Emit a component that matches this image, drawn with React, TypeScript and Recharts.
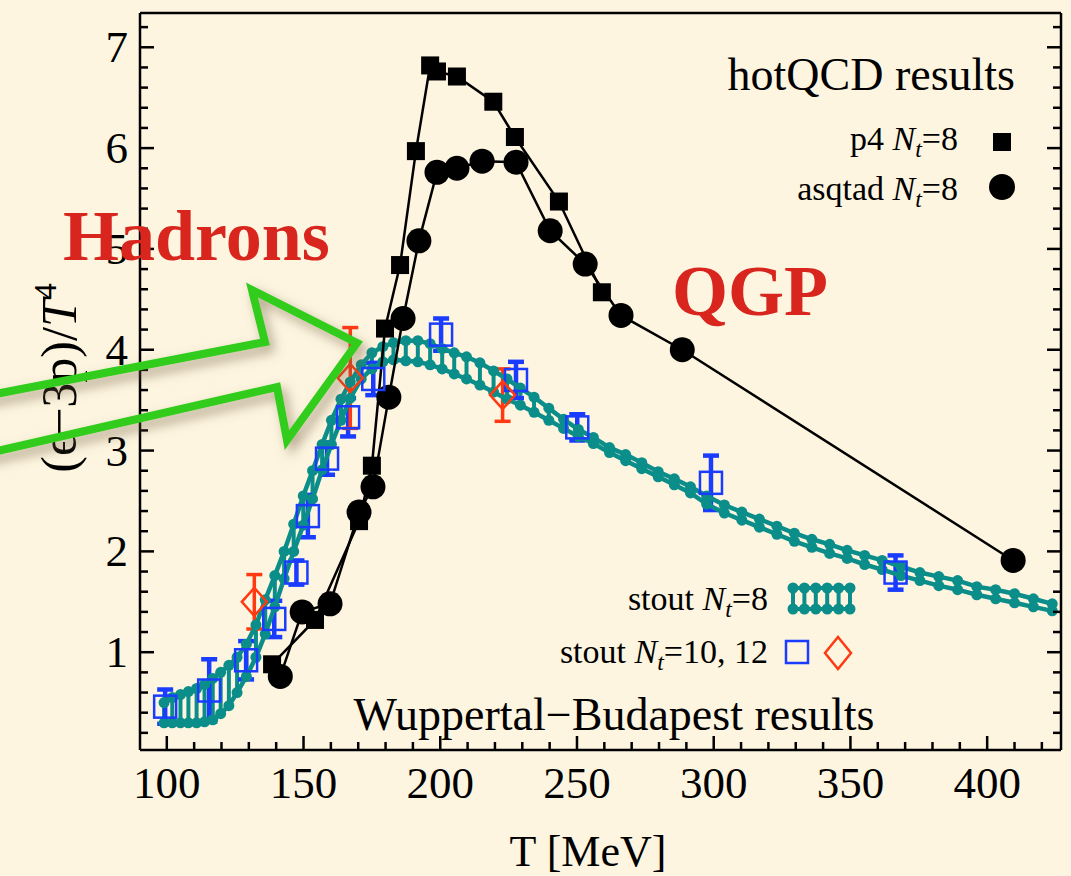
import React from "react";
import { ComposedChart, Scatter, XAxis, YAxis, ErrorBar } from "recharts";

const FONT = '"Liberation Serif", "DejaVu Serif", serif';
const TEAL = "#0b8e8a";
const BLUE = "#1a3cff";
const RED = "#ff3a12";
const TITLE_RED = "#d8261e";
const BG = "#fdf5e0";

// stout Nt=8 band (upper / lower edge)
const bandT = [99, 102, 105, 107.9, 110.9, 113.8, 116.8, 119.7, 122.7, 125.7, 129.1, 132.6, 136.0, 139.5, 142.9, 146.4, 149.9, 153.3, 156.8, 160.2, 163.7, 167.1, 171.1, 175.0, 179.0, 182.9, 187.4, 191.8, 196.3, 200.7, 205.1, 209.6, 214.5, 219.5, 224.4, 229.3, 234.3, 239.7, 245.1, 250.5, 256.0, 261.9, 267.8, 273.7, 279.7, 285.6, 291.5, 297.4, 303.9, 310.3, 316.7, 323.1, 329.5, 335.9, 342.4, 348.8, 355.2, 361.6, 368.5, 375.4, 382.3, 389.2, 396.2, 403.1, 410.0, 416.9, 423.8];
const bandHi = [0.50, 0.55, 0.58, 0.61, 0.64, 0.68, 0.74, 0.80, 0.87, 0.95, 1.08, 1.27, 1.52, 1.76, 2.00, 2.27, 2.55, 2.80, 3.06, 3.30, 3.51, 3.68, 3.85, 3.97, 4.03, 4.07, 4.09, 4.09, 4.06, 4.01, 3.97, 3.93, 3.87, 3.79, 3.71, 3.62, 3.53, 3.42, 3.31, 3.21, 3.13, 3.03, 2.96, 2.88, 2.79, 2.72, 2.64, 2.55, 2.46, 2.39, 2.32, 2.25, 2.18, 2.12, 2.07, 2.01, 1.96, 1.91, 1.85, 1.79, 1.75, 1.71, 1.65, 1.62, 1.58, 1.53, 1.48];
const bandLo = [0.30, 0.30, 0.30, 0.30, 0.30, 0.31, 0.33, 0.39, 0.47, 0.60, 0.76, 0.95, 1.18, 1.45, 1.73, 2.00, 2.26, 2.52, 2.81, 3.06, 3.30, 3.52, 3.71, 3.81, 3.88, 3.90, 3.89, 3.88, 3.85, 3.81, 3.76, 3.71, 3.65, 3.58, 3.51, 3.45, 3.38, 3.30, 3.22, 3.14, 3.07, 2.98, 2.90, 2.82, 2.74, 2.66, 2.58, 2.47, 2.38, 2.31, 2.24, 2.17, 2.10, 2.04, 1.98, 1.93, 1.87, 1.82, 1.76, 1.71, 1.66, 1.62, 1.57, 1.53, 1.49, 1.45, 1.41];

// hotQCD p4 Nt=8
const p4T = [138.5, 154.2, 170.3, 175.0, 179.8, 185.3, 191.1, 196.3, 198.8, 206.1, 219.4, 227.3, 243.4, 259.1];
const p4V = [0.88, 1.32, 2.30, 2.85, 4.21, 4.84, 5.97, 6.82, 6.76, 6.71, 6.46, 6.11, 5.47, 4.57];

// hotQCD asqtad Nt=8
const asqT = [141.5, 149.5, 159.7, 170.3, 175.4, 181.2, 186.4, 192.2, 198.8, 206.1, 215.3, 227.7, 240.2, 253.0, 266.1, 288.5, 409.5];
const asqV = [0.76, 1.40, 1.48, 2.39, 2.64, 3.53, 4.31, 5.08, 5.76, 5.80, 5.87, 5.86, 5.18, 4.85, 4.34, 4.00, 1.91];

// stout Nt=10, 12 (squares)
const sqT = [99.4, 115.5, 129.0, 139.3, 147.4, 151.6, 158.6, 166.3, 175.5, 200.3, 227.7, 250.1, 299.0, 366.5];
const sqV = [0.46, 0.62, 0.92, 1.33, 1.79, 2.35, 2.92, 3.33, 3.71, 4.15, 3.70, 3.23, 2.68, 1.79];
const sqErr = [0.17, 0.31, 0.19, 0.18, 0.12, 0.21, 0.16, 0.19, 0.16, 0.16, 0.18, 0.13, 0.27, 0.17];

// stout Nt=10, 12 (diamonds)
const dmT = [132.0, 167.1, 222.8];
const dmV = [1.50, 3.72, 3.55];
const dmErr = [0.27, 0.50, 0.26];

const xMajor = [100, 150, 200, 250, 300, 350, 400];
const yMajor = [1, 2, 3, 4, 5, 6, 7];
const xTicks: number[] = [];
for (let t = 100; t <= 420; t += 10) xTicks.push(t);
const yTicks: number[] = [];
for (let i = 1; i <= 36; i++) yTicks.push(i / 5);

const bandUpper = bandT.map((T, i) => ({ T, v: bandHi[i], rung: [bandHi[i] - bandLo[i], 0] }));
const bandLower = bandT.map((T, i) => ({ T, v: bandLo[i] }));
const p4Data = p4T.map((T, i) => ({ T, v: p4V[i] }));
const asqData = asqT.map((T, i) => ({ T, v: asqV[i] }));
const sqData = sqT.map((T, i) => ({ T, v: sqV[i], e: sqErr[i] }));
const dmData = dmT.map((T, i) => ({ T, v: dmV[i], e: dmErr[i] }));

const TealDot = (p: any) => <circle cx={p.cx} cy={p.cy} r={5.5} fill={TEAL} />;
const BlackSquare = (p: any) => <rect x={p.cx - 9} y={p.cy - 9} width={18} height={18} fill="#000" />;
const BlackCircle = (p: any) => <circle cx={p.cx} cy={p.cy} r={12.5} fill="#000" />;
const OpenSquare = (p: any) => (
  <rect x={p.cx - 11} y={p.cy - 11} width={22} height={22} fill="none" stroke={BLUE} strokeWidth={2.5} />
);
const OpenDiamond = (p: any) => (
  <path
    d={`M${p.cx},${p.cy - 14} L${p.cx + 12.5},${p.cy} L${p.cx},${p.cy + 14} L${p.cx - 12.5},${p.cy} Z`}
    fill="none"
    stroke={RED}
    strokeWidth={2.5}
  />
);

const BottomTick = (p: any) => {
  const major = xMajor.includes(p.payload.value);
  return (
    <g>
      <line x1={p.x} x2={p.x} y1={p.y} y2={p.y - (major ? 14 : 8)} stroke="#000" strokeWidth={2.5} />
      {major && (
        <text x={p.x} y={p.y + 48} textAnchor="middle" fontFamily={FONT} fontSize={45} fill="#000">
          {p.payload.value}
        </text>
      )}
    </g>
  );
};
const TopTick = (p: any) => {
  const major = xMajor.includes(p.payload.value);
  return <line x1={p.x} x2={p.x} y1={p.y} y2={p.y + (major ? 14 : 8)} stroke="#000" strokeWidth={2.5} />;
};
const LeftTick = (p: any) => {
  const major = yMajor.includes(p.payload.value);
  return (
    <g>
      <line x1={p.x} x2={p.x + (major ? 14 : 8)} y1={p.y} y2={p.y} stroke="#000" strokeWidth={2.5} />
      {major && (
        <text x={p.x - 12} y={p.y + 15} textAnchor="end" fontFamily={FONT} fontSize={45} fill="#000">
          {p.payload.value}
        </text>
      )}
    </g>
  );
};
const RightTick = (p: any) => {
  const major = yMajor.includes(p.payload.value);
  return <line x1={p.x} x2={p.x - (major ? 14 : 8)} y1={p.y} y2={p.y} stroke="#000" strokeWidth={2.5} />;
};

const Nt = ({ size }: { size: number }) => (
  <>
    <tspan fontStyle="italic">N</tspan>
    <tspan fontStyle="italic" fontSize={size * 0.7} dy={size * 0.2}>t</tspan>
    <tspan dy={-size * 0.2}>=</tspan>
  </>
);

const xDomain = [90.2, 427.0];
const yDomain = [0.03, 7.34];
const axisLine = { stroke: "#000", strokeWidth: 2.5 };

export default function App() {
  return (
    <div style={{ position: "absolute", left: 0, top: 0, width: 1071, height: 876, background: BG, overflow: "hidden" }}>
      <ComposedChart
        width={1071}
        height={876}
        margin={{ top: 12, right: 9, bottom: 66, left: 40 }}
        style={{ position: "absolute", left: 0, top: 0 }}
      >
        <XAxis
          dataKey="T"
          type="number"
          domain={xDomain}
          allowDataOverflow
          ticks={xTicks}
          interval={0}
          height={60}
          tickSize={0}
          tickMargin={0}
          tick={BottomTick}
          axisLine={axisLine}
          tickLine={false}
        />
        <XAxis
          xAxisId="top"
          orientation="top"
          type="number"
          domain={xDomain}
          allowDataOverflow
          ticks={xTicks}
          interval={0}
          height={1}
          tickSize={0}
          tickMargin={0}
          tick={TopTick}
          axisLine={axisLine}
          tickLine={false}
        />
        <YAxis
          dataKey="v"
          type="number"
          domain={yDomain}
          allowDataOverflow
          ticks={yTicks}
          interval={0}
          width={100}
          tickSize={0}
          tickMargin={0}
          tick={LeftTick}
          axisLine={axisLine}
          tickLine={false}
        />
        <YAxis
          yAxisId="right"
          orientation="right"
          type="number"
          domain={yDomain}
          allowDataOverflow
          ticks={yTicks}
          interval={0}
          width={1}
          tickSize={0}
          tickMargin={0}
          tick={RightTick}
          axisLine={axisLine}
          tickLine={false}
        />

        <Scatter data={bandLower} shape={TealDot} line={{ stroke: TEAL, strokeWidth: 4.5 }} lineType="joint" isAnimationActive={false} />
        <Scatter data={bandUpper} shape={TealDot} line={{ stroke: TEAL, strokeWidth: 4.5 }} lineType="joint" isAnimationActive={false}>
          <ErrorBar dataKey="rung" direction="y" width={0} stroke={TEAL} strokeWidth={4} isAnimationActive={false} />
        </Scatter>

        <Scatter data={p4Data} shape={BlackSquare} line={{ stroke: "#000", strokeWidth: 2.5 }} lineType="joint" isAnimationActive={false} />
        <Scatter data={asqData} shape={BlackCircle} line={{ stroke: "#000", strokeWidth: 2.5 }} lineType="joint" isAnimationActive={false} />

        <Scatter data={sqData} shape={OpenSquare} isAnimationActive={false}>
          <ErrorBar dataKey="e" direction="y" width={8} stroke={BLUE} strokeWidth={4.5} isAnimationActive={false} />
        </Scatter>
        <Scatter data={dmData} shape={OpenDiamond} isAnimationActive={false}>
          <ErrorBar dataKey="e" direction="y" width={8} stroke={RED} strokeWidth={3.5} isAnimationActive={false} />
        </Scatter>
      </ComposedChart>

      <svg width={1071} height={876} style={{ position: "absolute", left: 0, top: 0, pointerEvents: "none" }}>
        <defs>
          <filter id="arrowShadow" x="-20%" y="-20%" width="140%" height="140%">
            <feDropShadow dx={5} dy={6} stdDeviation={6} floodColor="#6f5c3c" floodOpacity={0.55} />
          </filter>
        </defs>

        {/* axis titles */}
        <text x={588} y={866} textAnchor="middle" fontFamily={FONT} fontSize={44} fill="#000">
          T [MeV]
        </text>
        <text transform="translate(76,378) rotate(-90)" textAnchor="middle" fontFamily={FONT} fontSize={50} fill="#000">
          (ϵ−3p)/<tspan fontStyle="italic">T</tspan>
          <tspan fontSize={32} dy={-20}>4</tspan>
        </text>

        {/* hotQCD legend */}
        <text x={1015} y={90} textAnchor="end" fontFamily={FONT} fontSize={46} fill="#000">
          hotQCD results
        </text>
        <text x={958} y={150} textAnchor="end" fontFamily={FONT} fontSize={34} fill="#000">
          p4 <Nt size={34} />8
        </text>
        <rect x={993} y={133} width={18} height={18} fill="#000" />
        <text x={958} y={200} textAnchor="end" fontFamily={FONT} fontSize={34} fill="#000">
          asqtad <Nt size={34} />8
        </text>
        <circle cx={1002} cy={187} r={13} fill="#000" />

        {/* Wuppertal-Budapest legend */}
        <text x={768} y={610} textAnchor="end" fontFamily={FONT} fontSize={34} fill="#000">
          stout <Nt size={34} />8
        </text>
        <g stroke={TEAL} strokeWidth={4}>
          <line x1={793} x2={850} y1={588} y2={588} />
          <line x1={793} x2={850} y1={609} y2={609} />
          {[793, 804.4, 815.8, 827.2, 838.6, 850].map((x) => (
            <line key={x} x1={x} x2={x} y1={588} y2={609} />
          ))}
        </g>
        {[793, 804.4, 815.8, 827.2, 838.6, 850].map((x) => (
          <g key={"d" + x} fill={TEAL}>
            <circle cx={x} cy={588} r={5.5} />
            <circle cx={x} cy={609} r={5.5} />
          </g>
        ))}
        <text x={768} y={663} textAnchor="end" fontFamily={FONT} fontSize={34} fill="#000">
          stout <Nt size={34} />10, 12
        </text>
        <rect x={786} y={641} width={22} height={22} fill="none" stroke={BLUE} strokeWidth={2.5} />
        <path d="M838,637 L851,653 L838,669 L825,653 Z" fill="none" stroke={RED} strokeWidth={2.5} />
        <text x={614} y={730} textAnchor="middle" fontFamily={FONT} fontSize={46} fill="#000">
          Wuppertal−Budapest results
        </text>

        {/* annotations */}
        <path
          d="M-20,397 L265,342 L252,290 L357,343 L287,440 L277,387 L-20,455"
          fill="none"
          stroke="#33cc1f"
          strokeWidth={8}
          strokeLinejoin="miter"
          filter="url(#arrowShadow)"
        />
        <text x={63} y={260} fontFamily={FONT} fontSize={72} fontWeight="bold" fill={TITLE_RED}>
          Hadrons
        </text>
        <text x={672} y={315} fontFamily={FONT} fontSize={72} fontWeight="bold" fill={TITLE_RED}>
          QGP
        </text>
      </svg>
    </div>
  );
}
